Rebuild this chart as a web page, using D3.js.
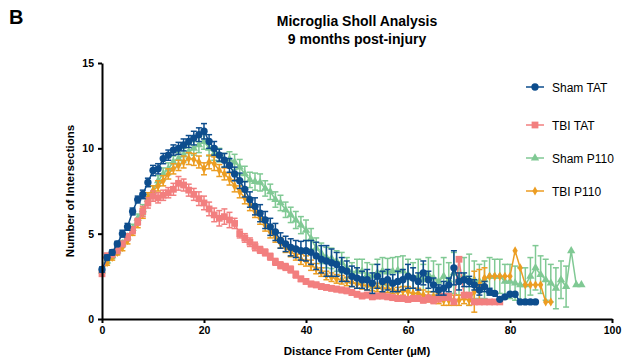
<!DOCTYPE html>
<html>
<head>
<meta charset="utf-8">
<script src="https://cdn.jsdelivr.net/npm/d3@7"></script>
<style>
  body { margin: 0; background: #fff; }
  svg text { font-family: "Liberation Sans", Arial, sans-serif; }
</style>
</head>
<body>
<div class="chart"></div>
<script>
// mean number of intersections, one value per µm from 0
const shamTat = [2.9, 3.6, 3.9, 4.4, 5.0, 5.4, 6.3, 7.0, 7.3, 8.0, 8.7, 8.8, 9.4, 9.6, 9.9, 10.0, 10.2, 10.4, 10.6, 10.8,
  11.0, 10.4, 10.0, 9.6, 9.3, 9.0, 8.5, 8.1, 7.6, 7.0, 6.6, 6.2, 5.8, 5.4, 5.1, 4.6, 4.4, 4.2, 4.1, 4.0,
  4.0, 3.9, 3.7, 3.5, 3.4, 3.3, 3.2, 2.9, 2.8, 2.5, 2.4, 2.3, 2.3, 2.1, 2.5, 2.2, 2.3, 2.1, 2.2, 2.3,
  2.5, 2.4, 2.2, 2.7, 2.3, 2.0, 1.7, 1.8, 2.0, 3.0, 2.2, 2.3, 2.2, 2.0, 1.7, 1.9, 1.6, 1.5, 1.15, 1.3,
  1.45, 1.45, 1.0, 1.0, 1.0, 1.0];
const shamTatErr = [0.15, 0.15, 0.15, 0.15, 0.2, 0.2, 0.2, 0.2, 0.25, 0.25, 0.3, 0.3, 0.3, 0.3, 0.3, 0.35, 0.35, 0.35, 0.4, 0.4,
  0.45, 0.4, 0.4, 0.35, 0.4, 0.4, 0.4, 0.45, 0.45, 0.45, 0.5, 0.5, 0.5, 0.5, 0.5, 0.45, 0.45, 0.5, 0.5, 0.55,
  0.6, 0.7, 0.8, 0.8, 0.9, 0.8, 0.7, 0.7, 0.6, 0.6, 0.6, 0.5, 0.6, 0.6, 0.7, 0.6, 0.6, 0.5, 0.6, 0.6,
  0.7, 0.6, 0.5, 0.7, 0.5, 0.4, 0.3, 0.4, 0.4, 1.0, 0.5, 0.4, 0.3, 0.3, 0.3, 0.3, 0.2, 0.1, 0, 0,
  0, 0, 0, 0, 0, 0];

const tbiTat = [2.65, 3.7, 3.8, 4.0, 4.4, 4.8, 5.2, 5.7, 6.3, 6.8, 7.2, 7.1, 7.25, 7.4, 7.6, 7.95, 7.85, 7.55, 7.3, 7.05,
  6.8, 6.45, 6.1, 5.9, 6.0, 5.8, 5.6, 5.0, 4.75, 4.5, 4.25, 4.05, 3.9, 3.65, 3.35, 3.15, 3.05, 2.9, 2.6, 2.35,
  2.2, 2.05, 2.0, 1.9, 1.85, 1.8, 1.75, 1.7, 1.65, 1.55, 1.45, 1.35, 1.4, 1.3, 1.35, 1.35, 1.3, 1.25, 1.2, 1.2,
  1.15, 1.2, 1.2, 1.1, 1.2, 1.1, 1.2, 1.3, 1.3, 1.0, 3.5, 1.4, 1.4, 1.0, 1.0, 1.0, 1.0, 1.0, 1.0];
const tbiTatErr = [0.1, 0.15, 0.15, 0.15, 0.15, 0.2, 0.2, 0.2, 0.3, 0.3, 0.3, 0.3, 0.3, 0.3, 0.35, 0.4, 0.35, 0.35, 0.35, 0.4,
  0.4, 0.4, 0.4, 0.45, 0.45, 0.45, 0.3, 0.25, 0.25, 0.25, 0.25, 0.2, 0.2, 0.2, 0.2, 0.2, 0.2, 0.2, 0.2, 0.15,
  0.15, 0.15, 0.15, 0.15, 0.15, 0.15, 0.15, 0.15, 0.15, 0.15, 0.15, 0.15, 0.15, 0.15, 0.15, 0.15, 0.15, 0.15, 0.15, 0.15,
  0.15, 0.15, 0.15, 0.15, 0.2, 0.2, 0.2, 0.2, 0.2, 0, 0, 0.1, 0.1, 0, 0, 0, 0, 0, 0];

const shamP110 = [2.8, 3.4, 3.7, 4.0, 4.4, 4.8, 5.3, 5.9, 6.4, 7.0, 7.5, 8.1, 8.5, 8.8, 9.2, 9.4, 9.6, 9.8, 10.0, 10.2,
  10.4, 10.0, 9.7, 9.6, 9.3, 9.35, 9.2, 8.9, 8.5, 8.15, 8.05, 8.0, 7.65, 7.45, 7.0, 6.8, 6.4, 6.1, 5.8, 5.5,
  5.2, 4.7, 4.15, 3.85, 3.6, 3.55, 3.4, 3.3, 3.0, 2.7, 2.8, 2.8, 2.6, 2.5, 2.7, 2.8, 2.75, 2.8, 2.85, 2.8,
  2.6, 2.4, 2.5, 2.3, 2.6, 2.4, 2.2, 2.5, 2.3, 2.7, 2.4, 2.5, 2.3, 2.3, 2.2, 2.3, 2.5, 2.5, 2.5, 2.2,
  2.2, 2.1, 2.0, 2.0, 2.5, 3.0, 2.6, 2.3, 2.1, 1.8, 2.3, 1.9, 4.0, 2.0, 2.0];
const shamP110Err = [0.15, 0.15, 0.15, 0.2, 0.2, 0.2, 0.25, 0.25, 0.3, 0.3, 0.3, 0.3, 0.35, 0.35, 0.35, 0.35, 0.4, 0.4, 0.4, 0.45,
  0.45, 0.45, 0.4, 0.4, 0.4, 0.45, 0.45, 0.45, 0.45, 0.45, 0.5, 0.5, 0.45, 0.45, 0.45, 0.45, 0.45, 0.45, 0.5, 0.5,
  0.6, 0.6, 0.6, 0.6, 0.6, 0.6, 0.6, 0.6, 0.6, 0.6, 0.7, 0.7, 0.7, 0.7, 0.8, 0.8, 0.8, 0.8, 0.8, 0.9,
  0.9, 0.9, 1.0, 0.9, 1.0, 1.0, 1.0, 1.1, 1.0, 1.2, 1.0, 1.1, 1.5, 1.1, 1.0, 1.1, 1.1, 1.0, 1.0, 1.0,
  1.0, 1.0, 1.0, 1.0, 1.1, 1.3, 1.1, 1.2, 1.1, 1.2, 1.1, 1.2, 0, 0, 0];

const tbiP110 = [2.8, 3.3, 3.6, 3.9, 4.2, 4.6, 5.1, 5.6, 6.2, 7.1, 7.5, 7.8, 8.1, 8.5, 8.8, 9.0, 9.2, 9.4, 9.35, 9.2,
  8.8, 9.2, 9.1, 8.7, 8.5, 8.2, 7.8, 7.45, 7.1, 6.7, 6.3, 5.9, 5.5, 5.1, 4.8, 4.45, 4.2, 3.95, 3.75, 3.5,
  3.4, 3.15, 2.95, 2.75, 2.55, 2.45, 2.35, 2.3, 2.2, 2.15, 2.05, 2.0, 1.95, 1.9, 1.85, 1.8, 1.8, 1.75, 1.6, 1.65,
  1.6, 1.5, 1.5, 1.4, 1.3, 1.3, 1.2, 1.1, 1.1, 1.1, 1.1, 1.2, 1.1, 1.6, 2.0, 2.4, 2.5, 2.5, 2.5, 2.5,
  2.5, 4.0, 3.0, 2.0, 2.0, 2.0, 2.0, 1.0, 1.0];
const tbiP110Err = [0.1, 0.15, 0.15, 0.15, 0.2, 0.2, 0.2, 0.25, 0.3, 0.3, 0.3, 0.3, 0.3, 0.3, 0.3, 0.3, 0.35, 0.35, 0.35, 0.35,
  0.35, 0.4, 0.4, 0.35, 0.35, 0.35, 0.35, 0.35, 0.35, 0.35, 0.35, 0.35, 0.35, 0.35, 0.3, 0.3, 0.3, 0.3, 0.3, 0.3,
  0.3, 0.3, 0.3, 0.25, 0.25, 0.25, 0.25, 0.25, 0.25, 0.25, 0.25, 0.25, 0.25, 0.25, 0.25, 0.25, 0.25, 0.25, 0.25, 0.25,
  0.3, 0.3, 0.3, 0.3, 0.3, 0.3, 0.3, 0.3, 0.3, 0.3, 0.3, 0.3, 0.3, 1.2, 0.9, 0.6, 0, 0, 0, 0,
  0, 0, 0, 0, 0, 0, 0, 0, 0];

const seriesNames = ["Sham TAT", "TBI TAT", "Sham P110", "TBI P110"];
const xTicks = [0, 20, 40, 60, 80, 100];
const yTicks = [0, 5, 10, 15];

const styles = {
  "Sham TAT": { color: "#0d4d8d", symbol: d3.symbolCircle, size: 42 },
  "TBI TAT": { color: "#f27f7f", symbol: d3.symbolSquare, size: 46 },
  "Sham P110": { color: "#80c994", symbol: d3.symbolTriangle, size: 30 },
  "TBI P110": { color: "#ec9d22", symbol: d3.symbolDiamond, size: 24 }
};

const series = [
  { name: "Sham TAT", y: shamTat, err: shamTatErr },
  { name: "TBI TAT", y: tbiTat, err: tbiTatErr },
  { name: "Sham P110", y: shamP110, err: shamP110Err },
  { name: "TBI P110", y: tbiP110, err: tbiP110Err }
].map(s => ({ ...s, pts: s.y.map((v, i) => ({ x: i, y: v, e: s.err[i] })) }));

const WIDTH = 623, HEIGHT = 362;
const MARGINS = { top: 63, right: 11, bottom: 43, left: 102 };

const svg = d3.select(".chart").append("svg")
  .attr("width", WIDTH).attr("height", HEIGHT);

const x = d3.scaleLinear().domain([0, 100]).range([MARGINS.left, WIDTH - MARGINS.right]);
const y = d3.scaleLinear().domain([0, 15]).range([HEIGHT - MARGINS.bottom, MARGINS.top]);

// panel letter + title
svg.append("text").attr("x", 9).attr("y", 24)
  .style("font-size", "20px").style("font-weight", "bold").text("B");
svg.append("text").attr("x", 357).attr("y", 26).attr("text-anchor", "middle")
  .style("font-size", "14px").style("font-weight", "bold").text("Microglia Sholl Analysis");
svg.append("text").attr("x", 357).attr("y", 44).attr("text-anchor", "middle")
  .style("font-size", "14px").style("font-weight", "bold").text("9 months post-injury");

// draw order: green, orange, pink, blue on top
const drawOrder = ["Sham P110", "TBI P110", "TBI TAT", "Sham TAT"];
const lineFunc = d3.line().x(d => x(d.x)).y(d => y(d.y));

drawOrder.forEach(name => {
  const s = series.find(d => d.name === name);
  const st = styles[name];
  const g = svg.append("g").attr("class", "series");
  const withErr = s.pts.filter(d => d.e > 0);

  g.selectAll(".eb").data(withErr).enter().append("line")
    .attr("x1", d => x(d.x)).attr("x2", d => x(d.x))
    .attr("y1", d => y(d.y - d.e)).attr("y2", d => y(d.y + d.e))
    .attr("stroke", st.color).attr("stroke-width", 1.5);
  g.selectAll(".capTop").data(withErr).enter().append("line")
    .attr("x1", d => x(d.x) - 3).attr("x2", d => x(d.x) + 3)
    .attr("y1", d => y(d.y + d.e)).attr("y2", d => y(d.y + d.e))
    .attr("stroke", st.color).attr("stroke-width", 1.5);
  g.selectAll(".capBot").data(withErr).enter().append("line")
    .attr("x1", d => x(d.x) - 3).attr("x2", d => x(d.x) + 3)
    .attr("y1", d => y(d.y - d.e)).attr("y2", d => y(d.y - d.e))
    .attr("stroke", st.color).attr("stroke-width", 1.5);

  g.append("path").attr("d", lineFunc(s.pts))
    .attr("fill", "none").attr("stroke", st.color).attr("stroke-width", 1.5);

  g.selectAll(".mk").data(s.pts).enter().append("path")
    .attr("transform", d => `translate(${x(d.x)},${y(d.y)})`)
    .attr("d", d3.symbol().type(st.symbol).size(st.size))
    .attr("fill", st.color);
});

// axes
const xAxis = svg.append("g")
  .attr("transform", `translate(0,${HEIGHT - MARGINS.bottom})`)
  .call(d3.axisBottom(x).tickValues(xTicks).tickSize(4).tickSizeOuter(0).tickPadding(4));
const yAxis = svg.append("g")
  .attr("transform", `translate(${MARGINS.left},0)`)
  .call(d3.axisLeft(y).tickValues(yTicks).tickSize(4).tickSizeOuter(0).tickPadding(4));
[xAxis, yAxis].forEach(a => {
  a.select(".domain").attr("stroke", "#000").attr("stroke-width", 2);
  a.selectAll(".tick line").attr("stroke", "#000").attr("stroke-width", 2);
  a.selectAll(".tick text").style("font-size", "10.5px").style("font-weight", "bold")
    .style("font-family", "'Liberation Sans', Arial, sans-serif").attr("fill", "#000");
});

svg.append("text").attr("x", 357).attr("y", 355).attr("text-anchor", "middle")
  .style("font-size", "11.5px").style("font-weight", "bold").text("Distance From Center (µM)");
svg.append("text").attr("transform", "translate(74,191) rotate(-90)").attr("text-anchor", "middle")
  .style("font-size", "11.5px").style("font-weight", "bold").text("Number of Intersections");

// legend
const legendY = [87, 125, 158, 191];
const legend = svg.selectAll(".legend").data(seriesNames).enter().append("g")
  .attr("class", "legend")
  .attr("transform", (d, i) => `translate(526,${legendY[i]})`);
legend.append("line").attr("x1", 0).attr("x2", 18).attr("y1", 0).attr("y2", 0)
  .attr("stroke", d => styles[d].color).attr("stroke-width", 1.5);
legend.append("path").attr("transform", "translate(9,0)")
  .attr("d", d => d3.symbol().type(styles[d].symbol).size(styles[d].size)())
  .attr("fill", d => styles[d].color);
legend.append("text").attr("x", 26).attr("y", 4.5)
  .style("font-size", "12px").text(d => d);
</script>
</body>
</html>
